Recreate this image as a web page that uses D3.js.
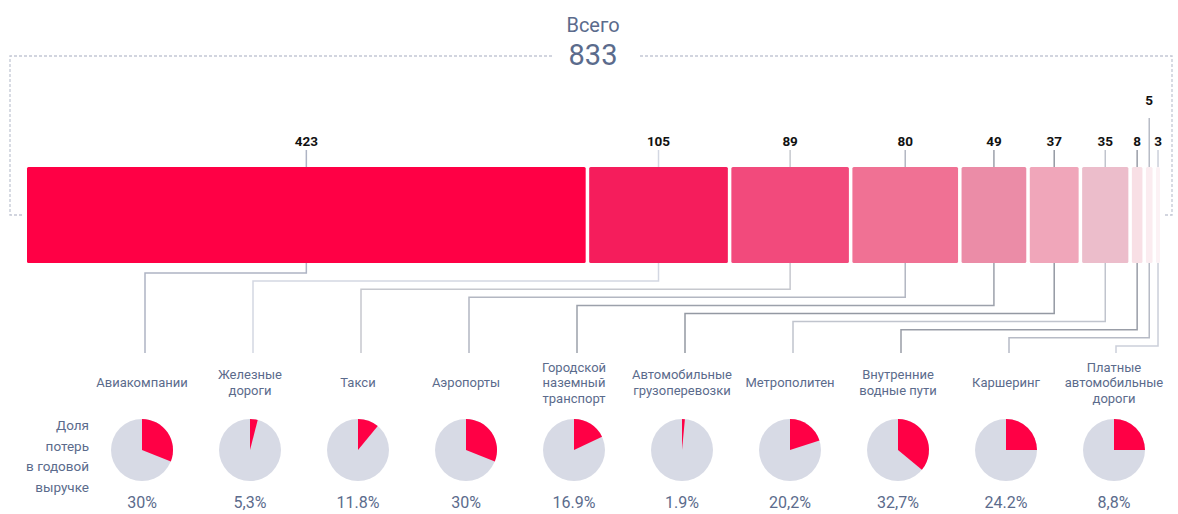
<!DOCTYPE html>
<html>
<head>
<meta charset="utf-8">
<script src="https://cdn.jsdelivr.net/npm/d3@7"></script>
<style>
  body { margin: 0; background: #fff; }
  svg { display: block; font-family: Roboto, "Open Sans", sans-serif; }
</style>
</head>
<body>
<div id="chart"></div>
<script>
// data
var categories = ["Авиакомпании", "Железные\nдороги", "Такси", "Аэропорты",
    "Городской\nназемный\nтранспорт", "Автомобильные\nгрузоперевозки", "Метрополитен",
    "Внутренние\nводные пути", "Каршеринг", "Платные\nавтомобильные\nдороги"];
var values = [423, 105, 89, 80, 49, 37, 35, 8, 5, 3];
var totalLabel = "833";
var shareLabels = ["30%", "5,3%", "11.8%", "30%", "16.9%", "1.9%", "20,2%", "32,7%", "24.2%", "8,8%"];
// share of each pie as drawn in the picture
var pieShares = [0.31, 0.04, 0.11, 0.31, 0.18, 0.015, 0.2, 0.36, 0.25, 0.25];

var segColors = ["#ff0045", "#f51d5c", "#f24a7c", "#f07194", "#eb8ca7", "#f0a6ba", "#ecbdcb", "#f8dfe5", "#fbecf0", "#fcf2f5"];
var lineColors = ["#aeb4c4", "#d3d7e2", "#c6c8ce", "#b3b7c2", "#9ca1ab", "#9499a3", "#c0c4cd", "#999da7", "#b7bbc6", "#cbcfda"];

var width = 1178, height = 514;
var textColor = "#5b6b8c";

var svg = d3.select("#chart").append("svg")
    .attr("width", width)
    .attr("height", height);

// bar scale
var gap = 3.5;
var barTop = 167, barBottom = 263;
var total = d3.sum(values);
var x = d3.scaleLinear()
    .domain([0, total])
    .range([27, 1160 - gap * (values.length - 1)]);

var cum = 0;
var segs = values.map(function(v, i) {
    var s = {i: i, v: v, x0: x(cum) + i * gap, x1: x(cum + v) + i * gap};
    s.cx = (s.x0 + s.x1) / 2;
    cum += v;
    return s;
});

// pies / labels positions
var px = d3.scalePoint()
    .domain(d3.range(categories.length))
    .range([142, 1114]);

// dashed bracket round the bar with the total
var dash = svg.append("g")
    .attr("fill", "none")
    .attr("stroke", "#c3c8d5")
    .attr("stroke-width", 1.3)
    .attr("stroke-dasharray", "3,2");
dash.append("path").attr("d", "M22,215 H10 V56 H553");
dash.append("path").attr("d", "M640,56 H1172 V215 H1164");

svg.append("text")
    .attr("x", 593).attr("y", 32)
    .attr("text-anchor", "middle")
    .attr("fill", textColor)
    .style("font-size", "20px")
    .text("Всего");
svg.append("text")
    .attr("x", 593).attr("y", 65)
    .attr("text-anchor", "middle")
    .attr("fill", textColor)
    .style("font-size", "29px")
    .text(totalLabel);

// connectors from segments down to the categories
var conn = svg.append("g").attr("fill", "none").attr("stroke-width", 1.5);
segs.forEach(function(s) {
    var yLevel = 273 + s.i * 8.1;
    var tx = s.i === values.length - 1 ? 1116 : px(s.i) + 3;
    conn.append("path")
        .attr("stroke", lineColors[s.i])
        .attr("d", "M" + s.cx + "," + barBottom + " V" + yLevel + " H" + tx + " V353");
    // small tick above the bar
    var top = s.i === 8 ? 118 : 150;
    conn.append("path")
        .attr("stroke", lineColors[s.i])
        .attr("d", "M" + s.cx + "," + top + " V" + barTop);
});

// bar segments
svg.append("g").selectAll("rect")
    .data(segs)
    .join("rect")
    .attr("x", d => d.x0)
    .attr("y", barTop)
    .attr("width", d => d.x1 - d.x0)
    .attr("height", barBottom - barTop)
    .attr("rx", 1.5)
    .attr("fill", d => segColors[d.i]);

// values above segments
svg.append("g").selectAll("text")
    .data(segs)
    .join("text")
    .attr("x", d => d.cx)
    .attr("y", d => d.i === 8 ? 105 : 146)
    .attr("text-anchor", "middle")
    .attr("fill", "#111")
    .style("font-size", "13.5px")
    .style("font-weight", "bold")
    .text(d => d.v);

// category names
var catG = svg.append("g").selectAll("text")
    .data(categories)
    .join("text")
    .attr("x", (d, i) => px(i))
    .attr("text-anchor", "middle")
    .attr("fill", textColor)
    .style("font-size", "13px");
catG.each(function(d) {
    var lines = d.split("\n");
    var t = d3.select(this);
    var y0 = 387 - (lines.length - 1) * 15.5 / 2;
    lines.forEach(function(l, k) {
        t.append("tspan")
            .attr("x", t.attr("x"))
            .attr("y", y0 + k * 15.5)
            .text(l);
    });
});

// left row label
var rowLabel = ["Доля", "потерь", "в годовой", "выручке"];
svg.append("g").selectAll("text")
    .data(rowLabel)
    .join("text")
    .attr("x", 89)
    .attr("y", (d, i) => 430 + i * 20.5)
    .attr("text-anchor", "end")
    .attr("fill", textColor)
    .style("font-size", "13.5px")
    .text(d => d);

// pies
var r = 31;
var arc = d3.arc().innerRadius(0).outerRadius(r);
var pies = svg.append("g").selectAll("g")
    .data(pieShares)
    .join("g")
    .attr("transform", (d, i) => "translate(" + px(i) + ",450)");
pies.append("circle")
    .attr("r", r)
    .attr("fill", "#d7dae5");
pies.append("path")
    .attr("fill", "#ff0045")
    .attr("d", d => arc({startAngle: 0, endAngle: d * 2 * Math.PI}));

// share labels
svg.append("g").selectAll("text")
    .data(shareLabels)
    .join("text")
    .attr("x", (d, i) => px(i))
    .attr("y", 508)
    .attr("text-anchor", "middle")
    .attr("fill", textColor)
    .style("font-size", "16px")
    .text(d => d);
</script>
</body>
</html>
